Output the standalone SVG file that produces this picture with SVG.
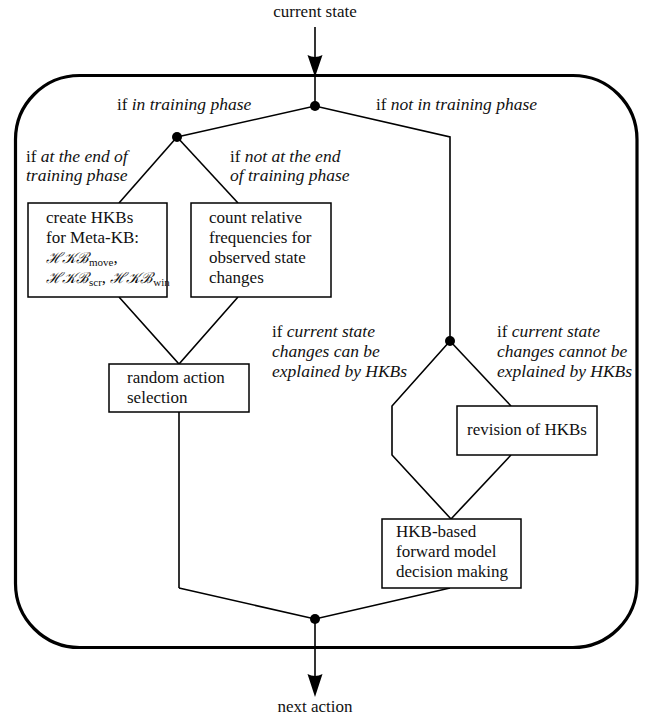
<svg xmlns="http://www.w3.org/2000/svg" width="649" height="719" viewBox="0 0 649 719">
<style>
text{font-family:'Liberation Serif','Times New Roman',Times,'DejaVu Serif','Noto Serif',serif;font-size:17px;fill:#111}
.it{font-style:italic;font-size:17.5px}
.sub{font-size:11px}
.cal{font-family:'DejaVu Serif','Liberation Serif',serif;font-style:italic;font-size:15px}
.box{fill:#fff;stroke:#000;stroke-width:1.5}
.ln{fill:none;stroke:#000;stroke-width:1.6;stroke-linejoin:miter}
.dot{fill:#000}
</style>
<rect id="frame" x="15.5" y="75.5" width="621.5" height="572" rx="64" ry="64" fill="none" stroke="#000" stroke-width="3.2"/>
<g id="connectors">
<line class="ln" x1="315" y1="27" x2="315" y2="60"/>
<path d="M307.5,55 Q315,59 322.5,55 L315,77 Z" fill="#000"/>
<line class="ln" x1="315" y1="76" x2="315" y2="106"/>
<polyline class="ln" points="177,137 315,106 450,137 450,341"/>
<line class="ln" x1="177" y1="137" x2="119" y2="203"/>
<line class="ln" x1="177" y1="137" x2="238" y2="203"/>
<polyline class="ln" points="119,297 179,364 238,297"/>
<line class="ln" x1="179" y1="412" x2="179" y2="588"/>
<polyline class="ln" points="179,588 315,619 450,588"/>
<polyline class="ln" points="450,341 392,406 392,455 451,519"/>
<line class="ln" x1="450" y1="341" x2="511" y2="406"/>
<line class="ln" x1="511" y1="455" x2="451" y2="519"/>
<line class="ln" x1="315" y1="619" x2="315" y2="680"/>
<path d="M307.5,674 Q315,678 322.5,674 L315,697 Z" fill="#000"/>
</g>
<g id="dots">
<circle class="dot" cx="315" cy="106" r="5"/>
<circle class="dot" cx="177" cy="137" r="5"/>
<circle class="dot" cx="450" cy="341" r="5"/>
<circle class="dot" cx="315" cy="619" r="5"/>
</g>
<g id="labels">
<text x="315" y="17" text-anchor="middle">current state</text>
<text x="315" y="712" text-anchor="middle">next action</text>
<text x="117" y="110">if <tspan class="it">in training phase</tspan></text>
<text x="376" y="110">if <tspan class="it">not in training phase</tspan></text>
<text x="26" y="162">if <tspan class="it">at the end of</tspan></text>
<text x="26" y="181" class="it">training phase</text>
<text x="230" y="162">if <tspan class="it">not at the end</tspan></text>
<text x="230" y="181" class="it">of training phase</text>
<text x="272" y="337">if <tspan class="it">current state</tspan></text>
<text x="272" y="357" class="it">changes can be</text>
<text x="272" y="377" class="it">explained by HKBs</text>
<text x="497" y="337">if <tspan class="it">current state</tspan></text>
<text x="497" y="357" class="it">changes cannot be</text>
<text x="497" y="377" class="it">explained by HKBs</text>
</g>
<g id="create-hkbs">
<rect class="box" x="28" y="203" width="139" height="94"/>
<text x="46" y="223">create HKBs</text>
<text x="46" y="243">for Meta-KB:</text>
<text x="46" y="263"><tspan class="cal">ℋ𝒦ℬ</tspan><tspan class="sub" dy="3">move</tspan><tspan dy="-3">,</tspan></text>
<text x="46" y="283"><tspan class="cal">ℋ𝒦ℬ</tspan><tspan class="sub" dy="3">scr</tspan><tspan dy="-3">, </tspan><tspan class="cal">ℋ𝒦ℬ</tspan><tspan class="sub" dy="3">win</tspan></text>
</g>
<g id="count-frequencies">
<rect class="box" x="191" y="203" width="140" height="94"/>
<text x="209" y="223">count relative</text>
<text x="209" y="243">frequencies for</text>
<text x="209" y="263">observed state</text>
<text x="209" y="283">changes</text>
</g>
<g id="random-action">
<rect class="box" x="109" y="364" width="140" height="48"/>
<text x="127" y="383">random action</text>
<text x="127" y="403">selection</text>
</g>
<g id="revision">
<rect class="box" x="457" y="406" width="140" height="49"/>
<text x="467" y="435">revision of HKBs</text>
</g>
<g id="hkb-decision">
<rect class="box" x="382" y="519" width="139" height="69"/>
<text x="396" y="537">HKB-based</text>
<text x="396" y="557">forward model</text>
<text x="396" y="577">decision making</text>
</g>
</svg>
